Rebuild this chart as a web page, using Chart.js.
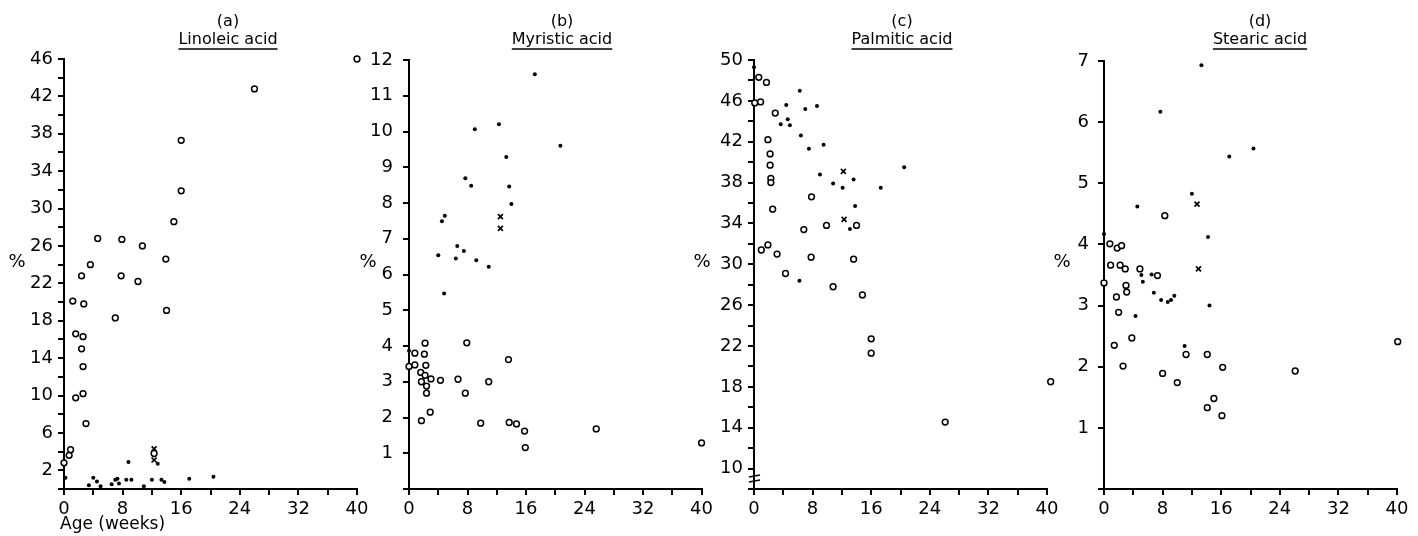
<!DOCTYPE html>
<html>
<head>
<meta charset="utf-8">
<script src="https://cdn.jsdelivr.net/npm/chart.js@4.4.1/dist/chart.umd.min.js"></script>
<style>
    body { margin: 0; background: #fff; }
    #wrap { position: relative; width: 1418px; height: 536px; overflow: hidden; background: #fff; }
    canvas { position: absolute; top: 0; }
</style>
</head>
<body>
<div id="wrap">
    <canvas id="chartA" width="375" height="536" style="left:0px"></canvas>
    <canvas id="chartB" width="362" height="536" style="left:355px"></canvas>
    <canvas id="chartC" width="375" height="536" style="left:690px"></canvas>
    <canvas id="chartD" width="373" height="536" style="left:1045px"></canvas>
</div>
<script>
/* DATA (x = age in weeks, y = %) */
const weekTicks = [0, 8, 16, 24, 32, 40];

// (a) Linoleic acid
const linOpenX = [40, 26, 16, 16, 15, 4.6, 7.9, 10.7, 13.9, 3.6, 2.4, 7.8, 10.1, 1.2, 2.7, 7.0, 14.0, 1.6, 2.6, 2.4, 2.6, 2.6, 1.6, 3.0, 0.9, 0.7, 0, 12.3];
const linOpenY = [46, 42.8, 37.3, 31.9, 28.6, 26.8, 26.7, 26.0, 24.6, 24.0, 22.8, 22.8, 22.2, 20.1, 19.8, 18.3, 19.1, 16.6, 16.3, 15.0, 13.1, 10.2, 9.75, 7.0, 4.2, 3.6, 2.8, 3.8];
const linDotX = [0.2, 3.4, 4.0, 4.5, 5.0, 6.5, 7.0, 7.3, 7.5, 8.5, 9.2, 8.8, 10.9, 12.0, 12.8, 13.3, 13.7, 17.1, 20.4];
const linDotY = [1.2, 0.4, 1.2, 0.8, 0.3, 0.5, 1.0, 1.1, 0.6, 1.0, 1.0, 2.9, 0.3, 1.0, 2.7, 1.0, 0.75, 1.1, 1.3];
const linCrossX = [12.3, 12.3];
const linCrossY = [4.3, 3.1];

// (b) Myristic acid
const myrOpenX = [2.2, 7.9, 0.8, 2.1, 13.6, 0, 0.8, 2.3, 1.6, 2.2, 3.0, 4.3, 6.7, 10.9, 1.7, 2.4, 2.4, 7.7, 2.9, 1.7, 9.8, 13.7, 14.7, 15.8, 15.9, 25.6, 40];
const myrOpenY = [4.08, 4.09, 3.8, 3.77, 3.62, 3.43, 3.47, 3.46, 3.26, 3.18, 3.08, 3.04, 3.07, 3.0, 3.0, 2.88, 2.68, 2.68, 2.15, 1.91, 1.84, 1.86, 1.82, 1.62, 1.16, 1.68, 1.29];
const myrDotX = [17.2, 9.0, 12.3, 20.7, 13.3, 7.7, 8.5, 13.7, 14.0, 4.9, 4.5, 6.6, 7.5, 4.0, 6.4, 9.2, 10.9, 4.8, 0];
const myrDotY = [11.6, 10.06, 10.2, 9.6, 9.29, 8.69, 8.48, 8.46, 7.97, 7.64, 7.49, 6.8, 6.66, 6.54, 6.45, 6.4, 6.22, 5.47, 3.87];
const myrCrossX = [12.5, 12.5];
const myrCrossY = [7.62, 7.29];

// (c) Palmitic acid
const palOpenX = [0.65, 1.7, 0.1, 0.9, 2.9, 1.9, 2.2, 2.2, 2.3, 2.3, 7.85, 2.55, 6.8, 9.9, 14.0, 1.0, 1.9, 3.15, 7.8, 13.6, 4.3, 10.8, 14.8, 16.0, 16.0, 26.1, 40.5];
const palOpenY = [48.3, 47.8, 45.8, 45.9, 44.8, 42.2, 40.8, 39.7, 38.4, 38.0, 36.6, 35.4, 33.4, 33.8, 33.8, 31.4, 31.9, 31.0, 30.7, 30.5, 29.1, 27.8, 27.0, 22.7, 21.3, 14.55, 18.5];
const palDotX = [0, 6.25, 4.4, 7.0, 8.6, 4.6, 3.65, 4.9, 6.4, 9.5, 7.5, 20.5, 9.0, 13.6, 10.8, 12.1, 17.3, 13.8, 13.1, 6.2];
const palDotY = [49.3, 47.0, 45.6, 45.2, 45.5, 44.2, 43.7, 43.6, 42.6, 41.7, 41.3, 39.5, 38.8, 38.3, 37.9, 37.5, 37.5, 35.7, 33.45, 28.4];
const palCrossX = [12.2, 12.3];
const palCrossY = [39.1, 34.4];

// (d) Stearic acid
const steOpenX = [8.3, 0.8, 1.8, 2.4, 0.9, 2.2, 2.9, 4.9, 7.3, 0, 3.0, 3.1, 1.7, 2.0, 3.8, 1.4, 2.6, 11.2, 14.1, 16.2, 8.0, 10.0, 15.0, 14.1, 16.1, 26.1, 40.1];
const steOpenY = [4.47, 4.01, 3.94, 3.98, 3.66, 3.66, 3.6, 3.6, 3.49, 3.37, 3.33, 3.22, 3.14, 2.89, 2.47, 2.35, 2.01, 2.2, 2.2, 1.99, 1.89, 1.74, 1.48, 1.33, 1.2, 1.93, 2.41];
const steDotX = [13.3, 7.7, 20.4, 17.1, 12.0, 4.55, 14.2, 0, 5.1, 6.5, 5.3, 6.8, 7.8, 8.7, 9.15, 9.6, 14.4, 4.3, 11.0];
const steDotY = [6.93, 6.17, 5.57, 5.44, 4.83, 4.62, 4.12, 4.17, 3.5, 3.51, 3.39, 3.21, 3.09, 3.06, 3.09, 3.16, 3.0, 2.83, 2.34];
const steCrossX = [12.7, 12.9];
const steCrossY = [4.66, 3.6];

/* PANELS */
const panels = [
    { id: "chartA", left: 0, width: 375, areaLeft: 64, top: 59, tag: "(a)", name: "Linoleic acid", titleX: 228, pctX: 17,
      yMin: 0, yMax: 46, yStep: 2, yLabel: v => (v - 2) % 4 === 0, tickPad: 5, ageLabel: true,
      open: [linOpenX, linOpenY], dot: [linDotX, linDotY], cross: [linCrossX, linCrossY] },
    { id: "chartB", left: 355, width: 362, areaLeft: 409, top: 60, tag: "(b)", name: "Myristic acid", titleX: 207, pctX: 13,
      yMin: 0, yMax: 12, yStep: 1, yLabel: v => v >= 1, tickPad: 10,
      open: [myrOpenX, myrOpenY], dot: [myrDotX, myrDotY], cross: [myrCrossX, myrCrossY] },
    { id: "chartC", left: 690, width: 375, areaLeft: 754, top: 60, tag: "(c)", name: "Palmitic acid", titleX: 212, pctX: 12,
      yMin: 8, yMax: 50, yStep: 2, yLabel: v => v >= 10 && (v - 10) % 4 === 0, tickPad: 5, broken: true,
      open: [palOpenX, palOpenY], dot: [palDotX, palDotY], cross: [palCrossX, palCrossY] },
    { id: "chartD", left: 1045, width: 373, areaLeft: 1104, top: 61, tag: "(d)", name: "Stearic acid", titleX: 215, pctX: 17,
      yMin: 0, yMax: 7, yStep: 1, yLabel: v => v >= 1, tickPad: 9,
      open: [steOpenX, steOpenY], dot: [steDotX, steDotY], cross: [steCrossX, steCrossY] }
];

const FONT = "'DejaVu Sans', sans-serif";

function toPoints(xs, ys) {
    return xs.map((x, i) => ({ x, y: ys[i] }));
}

/* DECORATION: titles, % label, axis break, age label */
const decor = {
    id: "decor",
    afterDraw(chart, args, p) {
        const ctx = chart.ctx;
        const a = chart.chartArea;
        ctx.save();
        ctx.fillStyle = "#000";
        ctx.strokeStyle = "#000";
        ctx.textAlign = "center";
        ctx.textBaseline = "middle";

        ctx.font = "16px " + FONT;
        ctx.fillText(p.tag, p.titleX, 22);
        ctx.fillText(p.name, p.titleX, 40);
        const w = ctx.measureText(p.name).width;
        ctx.lineWidth = 1.6;
        ctx.beginPath();
        ctx.moveTo(p.titleX - w / 2, 49);
        ctx.lineTo(p.titleX + w / 2, 49);
        ctx.stroke();

        ctx.font = "18px " + FONT;
        ctx.fillText("%", p.pctX, 262);

        if (p.broken) {
            ctx.lineWidth = 1.6;
            [476, 481].forEach(y => {
                ctx.beginPath();
                ctx.moveTo(a.left - 5, y + 1);
                ctx.lineTo(a.left + 6, y - 1);
                ctx.stroke();
            });
        }

        if (p.ageLabel) {
            ctx.textAlign = "left";
            ctx.font = "17px " + FONT;
            ctx.fillText("Age (weeks)", 60, 525);
        }
        ctx.restore();
    }
};

/* CHARTS */
panels.forEach(p => {
    new Chart(document.getElementById(p.id), {
        type: "scatter",
        data: {
            datasets: [
                {
                    label: "open",
                    data: toPoints(p.open[0], p.open[1]),
                    pointStyle: "circle",
                    pointRadius: 2.9,
                    borderWidth: 1.5,
                    borderColor: "#000",
                    backgroundColor: "#fff",
                    clip: false
                },
                {
                    label: "filled",
                    data: toPoints(p.dot[0], p.dot[1]),
                    pointStyle: "circle",
                    pointRadius: 2,
                    borderWidth: 0,
                    borderColor: "#000",
                    backgroundColor: "#000",
                    clip: false
                },
                {
                    label: "cross",
                    data: toPoints(p.cross[0], p.cross[1]),
                    pointStyle: "crossRot",
                    pointRadius: 3.5,
                    borderWidth: 1.7,
                    borderColor: "#000",
                    backgroundColor: "#000",
                    clip: false
                }
            ]
        },
        options: {
            responsive: false,
            animation: false,
            events: [],
            layout: { padding: { left: 0, top: p.top, right: p.width - (p.areaLeft - p.left) - 293, bottom: 0 } },
            plugins: { legend: { display: false }, tooltip: { enabled: false }, decor: p },
            scales: {
                x: {
                    type: "linear",
                    min: 0,
                    max: 40,
                    afterFit: s => { s.height = 536 - 489; },
                    border: { display: true, color: "#000", width: 2 },
                    grid: { drawOnChartArea: false, color: "#000", tickColor: "#000", tickLength: 6, lineWidth: 2 },
                    ticks: {
                        stepSize: 4,
                        autoSkip: false,
                        maxRotation: 0,
                        padding: 4,
                        color: "#000",
                        font: { family: FONT, size: 18 },
                        callback: v => weekTicks.includes(v) ? v : ""
                    }
                },
                y: {
                    type: "linear",
                    min: p.yMin,
                    max: p.yMax,
                    afterFit: s => { s.width = p.areaLeft - p.left; },
                    border: { display: true, color: "#000", width: 2 },
                    grid: { drawOnChartArea: false, color: "#000", tickColor: "#000", tickLength: 6, lineWidth: 2 },
                    ticks: {
                        stepSize: p.yStep,
                        autoSkip: false,
                        padding: p.tickPad,
                        color: "#000",
                        font: { family: FONT, size: 18 },
                        callback: v => p.yLabel(v) ? v : ""
                    }
                }
            }
        },
        plugins: [decor]
    });
});
</script>
</body>
</html>
